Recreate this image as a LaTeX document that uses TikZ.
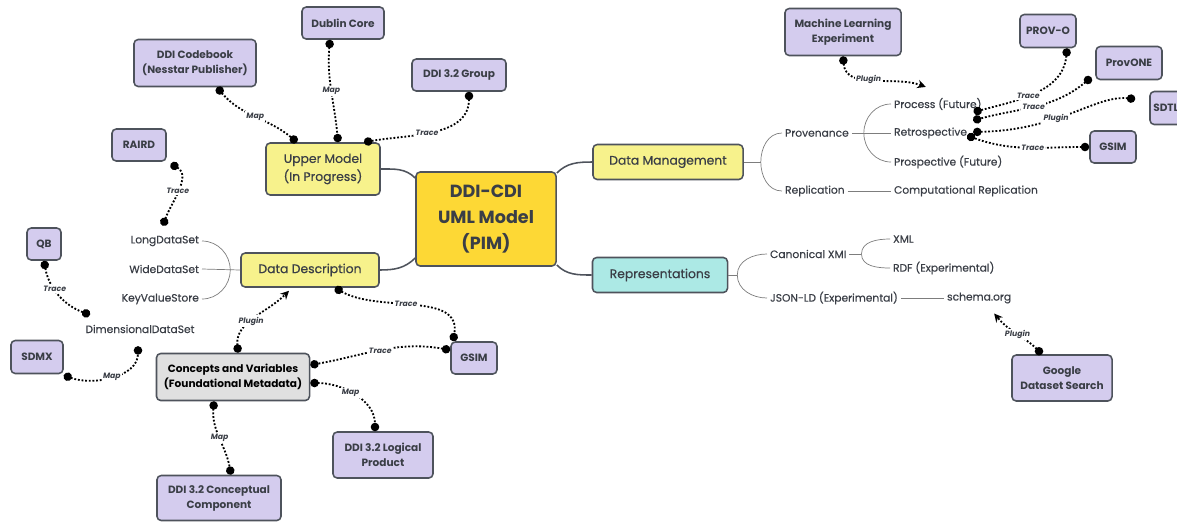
\documentclass[tikz,border=0pt]{standalone}
\usepackage{fontspec}
\setmainfont{Poppins}
\newfontfamily\mediumfont[FakeBold=0.5]{Poppins}
\usetikzlibrary{arrows.meta}
\definecolor{edgegray}{RGB}{78,83,92}
\definecolor{inkgray}{RGB}{58,62,70}
\definecolor{branchgray}{RGB}{125,125,125}
\definecolor{rootgold}{RGB}{253,216,53}
\definecolor{topicyellow}{RGB}{247,242,140}
\definecolor{reprcyan}{RGB}{172,233,229}
\definecolor{cvgray}{RGB}{224,224,224}
\definecolor{extpurple}{RGB}{212,204,238}
\tikzset{%
  box/.style       = {shape=rectangle, rounded corners=3pt, draw=edgegray,%
                      line width=1.1pt, align=center, text=inkgray, inner sep=1pt},%
  root/.style      = {box, fill=rootgold, font=\fontsize{12.5}{18.5}\selectfont\bfseries,%
                      minimum width=3.5cm, minimum height=2.35cm},%
  topic/.style     = {box, fill=topicyellow, font=\mediumfont\fontsize{8.8}{12.8}\selectfont},%
  ext/.style       = {box, fill=extpurple, font=\fontsize{7.5}{10.7}\selectfont\bfseries},%
  leaf/.style      = {inner sep=2pt, text=inkgray, font=\mediumfont\fontsize{7.6}{9}\selectfont},%
  branch/.style    = {draw=branchgray, line width=0.5pt},%
  trunk/.style     = {draw=edgegray, line width=1.1pt},%
  link/.style      = {line width=1.3pt, dash pattern=on 1.3pt off 1.3pt,%
                      arrows={Circle[length=6pt]-Circle[length=6pt]}},%
  plug/.style      = {link, arrows={Circle[length=6pt]-Stealth[length=6pt,width=6pt]}},%
  linklabel/.style = {fill=white, inner sep=1pt, text=inkgray,%
                      font=\fontsize{5.5}{6}\selectfont\bfseries\itshape}%
}

\begin{document}
\begin{tikzpicture}[x=0.025cm, y=0.025cm]
  \useasboundingbox (0,0) rectangle (1177,-522);
  \clip (0,0) rectangle (1177,-522);

  \node[root] (cdi) at (486,-219) {DDI-CDI\\UML Model\\(PIM)};
  \node[topic, minimum width=2.85cm, minimum height=1.3cm] (upper) at (323,-169) {Upper Model\\(In Progress)};
  \node[topic, minimum width=3.45cm, minimum height=0.85cm] (desc) at (310,-270) {Data Description};
  \node[topic, minimum width=3.75cm, minimum height=0.875cm] (mgmt) at (668,-162) {Data Management};
  \node[topic, fill=reprcyan, minimum width=3.375cm, minimum height=0.875cm] (repr) at (660,-275) {Representations};
  \node[ext, fill=cvgray, text=black, minimum width=3.825cm, minimum height=1.175cm] (cv) at (233,-377) {Concepts and Variables\\(Foundational Metadata)};

  \node[ext, minimum width=3.05cm, minimum height=1.175cm] (codebook) at (195,-63) {DDI Codebook\\(Nesstar Publisher)};
  \node[ext, minimum width=2.05cm, minimum height=0.8cm] (dublin) at (343,-23) {Dublin Core};
  \node[ext, minimum width=2.35cm, minimum height=0.8cm] (group) at (459,-75) {DDI 3.2 Group};
  \node[ext, minimum width=1.35cm, minimum height=0.8cm] (raird) at (139,-145) {RAIRD};
  \node[ext, minimum width=0.85cm, minimum height=0.8cm] (qb) at (44,-244) {QB};
  \node[ext, minimum width=1.3cm, minimum height=0.825cm] (sdmx) at (37,-357) {SDMX};
  \node[ext, minimum width=1.15cm, minimum height=0.8cm] (gsimdd) at (474,-358) {GSIM};
  \node[ext, minimum width=2.5cm, minimum height=1.15cm] (logical) at (383,-455) {DDI 3.2 Logical\\Product};
  \node[ext, minimum width=3.1cm, minimum height=1.125cm] (conceptual) at (219,-498) {DDI 3.2 Conceptual\\Component};
  \node[ext, minimum width=2.9cm, minimum height=1.175cm] (mlexp) at (843,-32) {Machine Learning\\Experiment};
  \node[ext, minimum width=1.4cm, minimum height=0.825cm] (provo) at (1048,-31) {PROV-O};
  \node[ext, minimum width=1.65cm, minimum height=0.825cm] (provone) at (1129,-63) {ProvONE};
  \node[ext, minimum width=0.8cm, minimum height=0.825cm] (sdtl) at (1166,-108) {SDTL};
  \node[ext, minimum width=1.15cm, minimum height=0.8cm] (gsimdm) at (1113,-147) {GSIM};
  \node[ext, minimum width=2.5cm, minimum height=1.15cm] (google) at (1062,-378) {Google\\Dataset Search};

  \node[leaf, anchor=east] (long) at (202,-241) {LongDataSet};
  \node[leaf, anchor=east] (wide) at (202,-269) {WideDataSet};
  \node[leaf, anchor=east] (kv) at (202,-299) {KeyValueStore};
  \node[leaf] (dim) at (140,-329) {DimensionalDataSet};
  \node[leaf, anchor=west] (prov) at (782,-133) {Provenance};
  \node[leaf, anchor=west] (repl) at (782,-191) {Replication};
  \node[leaf, anchor=west] (process) at (891,-104) {Process (Future)};
  \node[leaf, anchor=west] (retro) at (891,-133) {Retrospective};
  \node[leaf, anchor=west] (prosp) at (891,-162) {Prospective (Future)};
  \node[leaf, anchor=west] (comprep) at (891,-191) {Computational Replication};
  \node[leaf, anchor=west] (xmi) at (767,-254) {Canonical XMI};
  \node[leaf, anchor=west] (jsonld) at (767,-298) {JSON-LD (Experimental)};
  \node[leaf, anchor=west] (xml) at (890,-239) {XML};
  \node[leaf, anchor=west] (rdf) at (890,-268) {RDF (Experimental)};
  \node[leaf, anchor=west] (schema) at (944,-298) {schema.org};

  \draw[trunk] (upper.east) to[out=0,in=135] ([shift={(0,41)}]cdi.west);
  \draw[trunk] (desc.east) to[out=0,in=-135] ([shift={(0,-39)}]cdi.west);
  \draw[trunk] ([shift={(0,46)}]cdi.east) to[out=45,in=180] (mgmt.west);
  \draw[trunk] ([shift={(0,-46)}]cdi.east) to[out=-45,in=180] (repr.west);

  \draw[branch] (mgmt.east) -- ++(17,0);
  \draw[branch] (prov.west) to[out=180,in=90] ([shift={(17,0)}]mgmt.east) to[out=-90,in=180] (repl.west);
  \draw[branch] (prov.east) -- (retro.west);
  \draw[branch] (process.west) to[out=180,in=90] ([shift={(12,0)}]prov.east) to[out=-90,in=180] (prosp.west);
  \draw[branch] (repl.east) -- (comprep.west);
  \draw[branch] (repr.east) -- ++(9,0);
  \draw[branch] (xmi.west) to[out=180,in=90] ([shift={(9,0)}]repr.east) to[out=-90,in=180] (jsonld.west);
  \draw[branch] (xmi.east) -- ++(12,0);
  \draw[branch] (xml.west) to[out=180,in=90] ([shift={(12,0)}]xmi.east) to[out=-90,in=180] (rdf.west);
  \draw[branch] (jsonld.east) -- (schema.west);
  \draw[branch] (desc.west) -- (wide.east);
  \draw[branch] (long.east) to[out=0,in=90] ([shift={(-10,0)}]desc.west) to[out=-90,in=0] (kv.east);

  \draw[link] ([shift={(22,0)}]codebook.south) to[out=-50,in=140] node[linklabel, pos=.5] {Map} ([shift={(-26,0)}]upper.north);
  \draw[link] ([shift={(-13,0)}]dublin.south) to[out=-95,in=95] node[linklabel, pos=.5] {Map} ([shift={(15,0)}]upper.north);
  \draw[link] ([shift={(10,0)}]group.south) to[out=-90,in=10] node[linklabel, pos=.55] {Trace} ([shift={(41,0)}]upper.north);
  \draw[link] ([shift={(4,-2)}]raird.south east) to[out=-30,in=70] node[linklabel, pos=.5] {Trace} ([shift={(-2,7)}]long.north);
  \draw[link] (qb.south) to[out=-80,in=160] node[linklabel, pos=.4] {Trace} ([shift={(-50,7)}]dim.north);
  \draw[link] ([shift={(0,-1)}]sdmx.south east) to[out=-20,in=-90] node[linklabel, pos=.5] {Map} ([shift={(-2,-10)}]dim.south);
  \draw[plug] ([shift={(5,0)}]cv.north) to[out=95,in=-135] node[linklabel, pos=.45] {Plugin} ([shift={(-21,-3)}]desc.south);
  \draw[link] ([shift={(25,0)}]desc.south) to[out=-30,in=80] node[linklabel, pos=.45] {Trace} ([shift={(-21,0)}]gsimdd.north);
  \draw[link] ([shift={(0,8)}]gsimdd.west) to[out=170,in=10] node[linklabel, pos=.5] {Trace} ([shift={(0,12)}]cv.east);
  \draw[link] ([shift={(0,-6)}]cv.east) to[out=0,in=90] node[linklabel, pos=.45] {Map} ([shift={(-8,0)}]logical.north);
  \draw[link] ([shift={(-19,0)}]cv.south) to[out=-95,in=100] node[linklabel, pos=.5] {Map} ([shift={(12,0)}]conceptual.north);

  \draw[plug] (mlexp.south) to[out=-85,in=160] node[linklabel, pos=.45] {Plugin} ([shift={(-12,8)}]process.north);
  \draw[link] ([shift={(19,0)}]provo.south) to[out=-95,in=15] node[linklabel, pos=.56] {Trace} ([shift={(-11,1)}]process.south east);
  \draw[link] ([shift={(-4,3)}]provone.south west) to[out=-140,in=15] node[linklabel, pos=.52] {Trace} ([shift={(3,4)}]retro.north east);
  \draw[link] ([shift={(-14,9)}]sdtl.west) .. controls (1095,-95) and (1060,-130) .. node[linklabel, pos=.6] {Plugin} ([shift={(3,1)}]retro.east);
  \draw[link] (gsimdm.west) to[out=180,in=-20] node[linklabel, pos=.45] {Trace} ([shift={(-3,6)}]retro.south east);
  \draw[plug] ([shift={(-20,0)}]google.north) to[out=135,in=-50] node[linklabel, pos=.5] {Plugin} ([shift={(15,-7)}]schema.south);
\end{tikzpicture}
\end{document}
